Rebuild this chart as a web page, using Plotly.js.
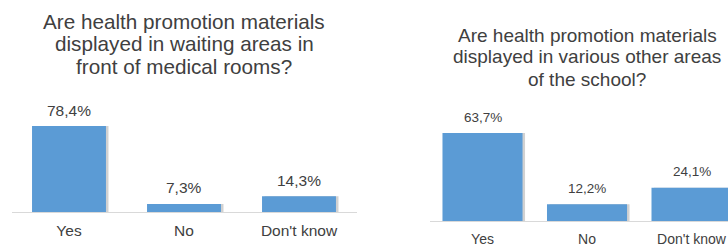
<!DOCTYPE html>
<html>
<head>
<meta charset="utf-8">
<script src="https://cdn.plot.ly/plotly-3.0.1.min.js"></script>
<style>html,body{margin:0;padding:0;background:#fff;}#chart{width:728px;height:246px;}</style>
</head>
<body>
<div id="chart"></div>
<script>
const categories = ["Yes", "No", "Don't know"];
const waitingValues = [78.4, 7.3, 14.3];
const otherValues = [63.7, 12.2, 24.1];
const waitingTitle = ["Are health promotion materials", "displayed in waiting areas in", "front of medical rooms?"];
const otherTitle = ["Are health promotion materials", "displayed in various other areas", "of the school?"];

const FONT = "Arial, 'Liberation Sans', sans-serif";
const TEXT = "#404040";
const BAR = "#5B9BD5";
const SHADOW = "rgba(90,90,90,0.28)";
const fmt = v => v.toFixed(1).replace('.', ',') + '%';

const wL = 0.643, wR = 0.766;          // bar widths in category units
const pxL = 1 / 115, pxR = 1 / 104.5;  // one pixel in category units

const traces = [
  {type: 'bar', x: categories, y: waitingValues, xaxis: 'x', yaxis: 'y',
   marker: {color: SHADOW}, width: wL, offset: -wL / 2 + 2.5 * pxL, hoverinfo: 'none'},
  {type: 'bar', x: categories, y: waitingValues, xaxis: 'x', yaxis: 'y',
   marker: {color: BAR}, width: wL, offset: -wL / 2, hoverinfo: 'none'},
  {type: 'bar', x: categories, y: otherValues, xaxis: 'x2', yaxis: 'y2',
   marker: {color: SHADOW}, width: wR, offset: -wR / 2 + 2.5 * pxR, hoverinfo: 'none'},
  {type: 'bar', x: categories, y: otherValues, xaxis: 'x2', yaxis: 'y2',
   marker: {color: BAR}, width: wR, offset: -wR / 2, hoverinfo: 'none'}
];

const annotations = [];
waitingTitle.forEach((t, i) => annotations.push({
  text: t, xref: 'paper', yref: 'paper', x: 184 / 728, y: (246 - (21.5 + i * 22.5)) / 246,
  xanchor: 'center', yanchor: 'middle', showarrow: false,
  font: {family: FONT, size: 20.7, color: TEXT}
}));
otherTitle.forEach((t, i) => annotations.push({
  text: t, xref: 'paper', yref: 'paper', x: 587 / 728, y: (246 - (35 + i * 22)) / 246,
  xanchor: 'center', yanchor: 'middle', showarrow: false,
  font: {family: FONT, size: 19, color: TEXT}
}));
categories.forEach((c, i) => {
  annotations.push({text: fmt(waitingValues[i]), x: c, y: waitingValues[i], xref: 'x', yref: 'y',
    xanchor: 'center', yanchor: 'middle', yshift: 16, showarrow: false,
    font: {family: FONT, size: 15.5, color: TEXT}});
  annotations.push({text: fmt(otherValues[i]), x: c, y: otherValues[i], xref: 'x2', yref: 'y2',
    xanchor: 'center', yanchor: 'middle', yshift: 16, showarrow: false,
    font: {family: FONT, size: 13.5, color: TEXT}});
});

const layout = {
  width: 728, height: 246,
  margin: {l: 0, r: 0, t: 0, b: 0},
  paper_bgcolor: '#fff', plot_bgcolor: '#fff',
  showlegend: false,
  barmode: 'overlay',
  xaxis: {domain: [11.5 / 728, 356.5 / 728], range: [-0.5, 2.5], anchor: 'y',
    showline: true, linecolor: '#d9d9d9', linewidth: 1, ticks: '', showgrid: false,
    ticklabelstandoff: 4,
    tickfont: {family: FONT, size: 15.5, color: TEXT}, fixedrange: true},
  yaxis: {domain: [34 / 246, 1], range: [0, 212 / 1.097], visible: false, fixedrange: true},
  xaxis2: {domain: [430.25 / 728, 1], range: [-0.5, 2.349], anchor: 'y2',
    showline: true, linecolor: '#d9d9d9', linewidth: 1, ticks: '', showgrid: false,
    ticklabelstandoff: 5,
    tickfont: {family: FONT, size: 14, color: TEXT}, fixedrange: true},
  yaxis2: {domain: [25 / 246, 1], range: [0, 221 / 1.38], visible: false, fixedrange: true},
  annotations: annotations
};

Plotly.newPlot('chart', traces, layout, {displayModeBar: false, staticPlot: true});
</script>
</body>
</html>
